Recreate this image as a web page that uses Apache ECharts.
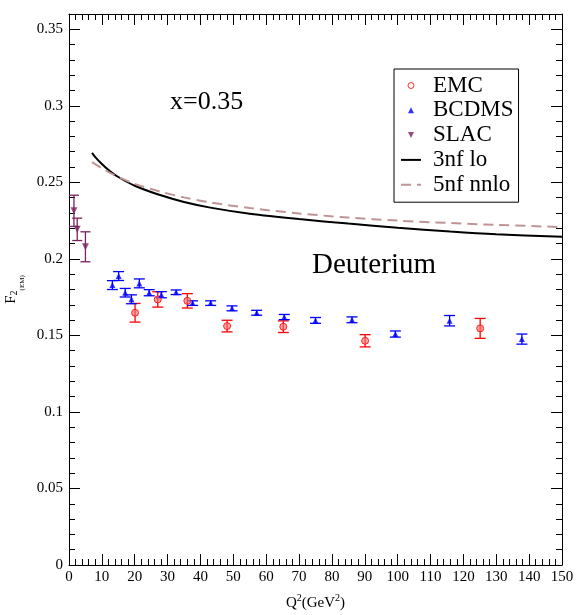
<!DOCTYPE html>
<html><head><meta charset="utf-8">
<script src="https://cdn.jsdelivr.net/npm/echarts@6/dist/echarts.min.js"></script>
<style>html,body{margin:0;padding:0;background:#fff}#c{width:578px;height:615px}</style>
</head><body><div id="c"></div>
<script>
// ---- data ----
const emcQ2   = [20.1, 27.0, 36.0, 48.1, 65.2, 90.1, 125.1];
const emcF2   = [0.1648, 0.1735, 0.1726, 0.1561, 0.1557, 0.1465, 0.1546];
const emcErr  = [0.0061, 0.0050, 0.0047, 0.0038, 0.0038, 0.0040, 0.0065];

const bcdmsQ2  = [13.2, 15.1, 17.1, 19.0, 21.4, 24.4, 28.1, 32.6, 37.6, 43.1, 49.6, 57.1, 65.5, 75.0, 86.1, 99.3, 115.8, 137.8];
const bcdmsF2  = [0.1829, 0.1888, 0.1779, 0.1736, 0.1840, 0.1779, 0.1766, 0.1782, 0.1711, 0.1711, 0.1677, 0.1648, 0.1620, 0.1598, 0.1602, 0.1509, 0.1596, 0.1476];
const bcdmsErr = [0.0029, 0.0029, 0.0028, 0.0029, 0.0029, 0.0020, 0.0020, 0.0015, 0.0015, 0.0015, 0.0016, 0.0016, 0.0017, 0.0019, 0.0019, 0.0020, 0.0034, 0.0033];

const slacQ2  = [1.5, 2.5, 5.0];
const slacF2  = [0.2314, 0.2193, 0.2079];
const slacErr = [0.0102, 0.0073, 0.0098];

const lo3Q2  = [7, 8, 10, 12.5, 15, 20, 27.7, 35, 43, 55, 70, 85, 100, 116, 130, 150];
const lo3F2  = [0.2693, 0.2665, 0.2620, 0.2572, 0.2535, 0.2478, 0.2417, 0.2372, 0.2335, 0.2295, 0.2260, 0.2231, 0.2204, 0.2179, 0.2161, 0.2144];
const nnlo5Q2 = [7, 10, 12.5, 15, 20, 27.7, 35, 43, 55, 70, 85, 100, 116, 130, 150];
const nnlo5F2 = [0.2632, 0.2592, 0.2562, 0.2535, 0.2490, 0.2440, 0.2402, 0.2369, 0.2332, 0.2297, 0.2270, 0.2250, 0.2234, 0.2222, 0.2208];

const xTicks = {min: 0, max: 150, step: 10};
const yTicks = {min: 0, max: 0.36, step: 0.05, minorStep: 0.01};

// ---- build ----
const zip2 = (a, b) => a.map((v, i) => [v, b[i]]);
const zip3 = (a, b, c) => a.map((v, i) => [v, b[i], c[i]]);
const FONT = '"Liberation Serif", "Times New Roman", serif';

function errRender(color, capW) {
  return function (params, api) {
    const x = api.value(0), y = api.value(1), e = api.value(2);
    const t = api.coord([x, y + e]), b = api.coord([x, y - e]);
    const h = capW / 2;
    const st = {stroke: color, lineWidth: 1.3};
    return {type: 'group', children: [
      {type: 'line', shape: {x1: t[0], y1: t[1], x2: b[0], y2: b[1]}, style: st},
      {type: 'line', shape: {x1: t[0] - h, y1: t[1], x2: t[0] + h, y2: t[1]}, style: st},
      {type: 'line', shape: {x1: b[0] - h, y1: b[1], x2: b[0] + h, y2: b[1]}, style: st}
    ]};
  };
}

const RED = '#ff0000', BLUE = '#0000ff', PURPLE = '#7a2260', ROSY = '#c09494';

const baseX = {type: 'value', min: xTicks.min, max: xTicks.max, interval: xTicks.step,
  axisLine: {show: true, onZero: false, lineStyle: {color: '#000', width: 1}}, splitLine: {show: false},
  axisTick: {show: true, inside: true, length: 11, lineStyle: {color: '#000'}},
  minorTick: {show: true, splitNumber: 5, length: 6, lineStyle: {color: '#000'}}};

function yAxis(pos, step, len, labels, line) {
  return {type: 'value', position: pos, min: yTicks.min, max: yTicks.max, interval: step,
    axisLine: {show: line, onZero: false, lineStyle: {color: '#000', width: 1}}, splitLine: {show: false},
    axisTick: {show: true, inside: true, length: len, lineStyle: {color: '#000'}},
    axisLabel: labels ? {show: true, showMaxLabel: false, fontFamily: FONT, fontSize: 15, color: '#000', margin: 6,
      formatter: v => String(+v.toFixed(2))} : {show: false}};
}

const chart = echarts.init(document.getElementById('c'), null, {renderer: 'canvas'});
chart.setOption({
  animation: false,
  backgroundColor: '#fff',
  grid: {left: 69, right: 16, top: 14, bottom: 50, containLabel: false, outerBoundsMode: 'none'},
  xAxis: [
    Object.assign({}, baseX, {position: 'bottom',
      axisLabel: {fontFamily: FONT, fontSize: 15, color: '#000', margin: 5},
      name: '{a|Q}{s|2}{a|(GeV}{s|2}{a|)}', nameLocation: 'middle', nameGap: 28,
      nameTextStyle: {rich: {
        a: {fontFamily: FONT, fontSize: 15, color: '#000', lineHeight: 18, verticalAlign: 'bottom'},
        s: {fontFamily: FONT, fontSize: 10, color: '#000', lineHeight: 18, verticalAlign: 'top'}}}}),
    Object.assign({}, baseX, {position: 'top', axisLabel: {show: false}})
  ],
  yAxis: [
    Object.assign(yAxis('left', yTicks.step, 11, true, true), {
      name: '{a|F}{b|2}{c|(EM)}', nameLocation: 'middle', nameGap: 34, nameRotate: 90,
      nameTextStyle: {rich: {
        a: {fontFamily: FONT, fontSize: 15, color: '#000', lineHeight: 22, verticalAlign: 'top'},
        b: {fontFamily: FONT, fontSize: 10, color: '#000', lineHeight: 22, verticalAlign: 'middle'},
        c: {fontFamily: FONT, fontSize: 7, color: '#000', lineHeight: 22, verticalAlign: 'bottom'}}}}),
    yAxis('left', yTicks.minorStep, 6, false, false),
    yAxis('right', yTicks.step, 11, false, true),
    yAxis('right', yTicks.minorStep, 6, false, false)
  ],
  legend: {
    orient: 'vertical', left: 394, top: 69,
    padding: [5, 5, 6, 6], itemGap: 1.8, itemWidth: 20, itemHeight: 6,
    borderColor: '#000', borderWidth: 1, backgroundColor: '#fff',
    selectedMode: false,
    textStyle: {fontFamily: FONT, fontSize: 23, lineHeight: 23, color: '#000', padding: [0, 0, 0, 7]},
    data: [
      {name: 'EMC', icon: 'circle', itemStyle: {color: '#fff', borderColor: RED, borderWidth: 1}},
      {name: 'BCDMS', icon: 'path://M0,10 L5,0 L10,10 Z'},
      {name: 'SLAC', icon: 'path://M0,0 L10,0 L5,10 Z'},
      {name: '3nf lo', itemStyle: {color: 'rgba(0,0,0,0)', borderWidth: 0, opacity: 0}},
      {name: '5nf nnlo', itemStyle: {color: 'rgba(0,0,0,0)', borderWidth: 0, opacity: 0}}
    ]
  },
  graphic: [
    {type: 'text', left: 170, top: 89, z: 10, style: {text: 'x=0.35', font: '26px ' + FONT, fill: '#000'}},
    {type: 'text', left: 312, top: 251, z: 10, style: {text: 'Deuterium', font: '29px ' + FONT, fill: '#000'}}
  ],
  series: [
    {name: '3nf lo', type: 'line', data: zip2(lo3Q2, lo3F2), smooth: 0.3, symbol: 'none', showSymbol: false,
      lineStyle: {color: '#000', width: 2}, itemStyle: {color: '#000'}, z: 3},
    {name: '5nf nnlo', type: 'line', data: zip2(nnlo5Q2, nnlo5F2), smooth: 0.3, symbol: 'none', showSymbol: false,
      lineStyle: {color: ROSY, width: 2, type: [10, 6]}, itemStyle: {color: ROSY}, z: 3},
    {name: 'EMC err', type: 'custom', data: zip3(emcQ2, emcF2, emcErr), renderItem: errRender(RED, 11), z: 4},
    {name: 'BCDMS err', type: 'custom', data: zip3(bcdmsQ2, bcdmsF2, bcdmsErr), renderItem: errRender(BLUE, 11), z: 4},
    {name: 'SLAC err', type: 'custom', data: zip3(slacQ2, slacF2, slacErr), renderItem: errRender(PURPLE, 10), z: 4},
    {name: 'EMC', type: 'scatter', data: zip2(emcQ2, emcF2), symbol: 'circle', symbolSize: 7,
      itemStyle: {color: 'rgba(255,110,110,0.8)', borderColor: RED, borderWidth: 1}, z: 5},
    {name: 'BCDMS', type: 'scatter', data: zip2(bcdmsQ2, bcdmsF2), symbol: 'triangle', symbolSize: 6,
      itemStyle: {color: BLUE}, z: 5},
    {name: 'SLAC', type: 'scatter', data: zip2(slacQ2, slacF2), symbol: 'triangle', symbolRotate: 180, symbolSize: 7,
      itemStyle: {color: PURPLE}, z: 5}
  ]
});
</script></body></html>
